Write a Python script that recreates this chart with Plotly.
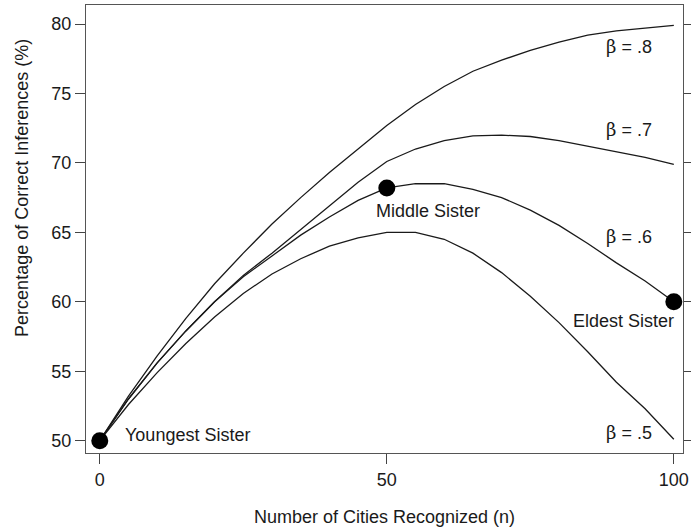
import plotly.graph_objects as go

# ── Data ───────────────────────────────────────────────────────────────────
n_cities = [0, 5, 10, 15, 20, 25, 30, 35, 40, 45, 50,
            55, 60, 65, 70, 75, 80, 85, 90, 95, 100]

beta_8 = [50, 53.2, 56.1, 58.8, 61.3, 63.5, 65.6, 67.5, 69.3, 71.0, 72.7,
          74.2, 75.5, 76.6, 77.4, 78.1, 78.7, 79.2, 79.5, 79.7, 79.9]
beta_7 = [50, 53.0, 55.6, 57.9, 60.0, 61.9, 63.5, 65.2, 66.9, 68.6, 70.1,
          71.0, 71.6, 71.95, 72.0, 71.9, 71.6, 71.2, 70.8, 70.4, 69.9]
beta_6 = [50, 53.0, 55.6, 57.9, 60.0, 61.8, 63.3, 64.8, 66.1, 67.3, 68.2,
          68.5, 68.5, 68.1, 67.5, 66.6, 65.5, 64.2, 62.8, 61.5, 60.0]
beta_5 = [50, 52.6, 54.9, 57.0, 58.9, 60.6, 62.0, 63.1, 64.0, 64.6, 65.0,
          65.0, 64.5, 63.5, 62.1, 60.4, 58.5, 56.4, 54.2, 52.3, 50.1]

sister_n = [0, 50, 100]
sister_pct = [50, 68.2, 60]
sister_names = ["Youngest Sister", "Middle Sister", "Eldest Sister"]

x_ticks = [0, 50, 100]
y_ticks = [50, 55, 60, 65, 70, 75, 80]

INK = "#1a1a1a"
FONT = "Liberation Sans, Arial, sans-serif"
FS = 18

fig = go.Figure()

for ys in (beta_8, beta_7, beta_6, beta_5):
    fig.add_trace(go.Scatter(
        x=n_cities, y=ys, mode="lines",
        line=dict(color=INK, width=1.3),
        showlegend=False, hoverinfo="skip",
    ))

fig.add_trace(go.Scatter(
    x=sister_n, y=sister_pct, mode="markers",
    marker=dict(color="black", size=17),
    showlegend=False, text=sister_names, cliponaxis=False,
))

# curve labels and sister labels
BETA = "<span style='font-family:DejaVu Serif'>β</span>"
labels = [
    (BETA + " = .8", 92.2, 78.4, "center"),
    (BETA + " = .7", 92.2, 72.4, "center"),
    (BETA + " = .6", 92.2, 64.7, "center"),
    (BETA + " = .5", 92.2, 50.6, "center"),
    ("Middle Sister", 57.2, 66.55, "center"),
    ("Eldest Sister", 91.3, 58.6, "center"),
    ("Youngest Sister", 4.0, 50.4, "left"),
]
for txt, x, y, anchor in labels:
    fig.add_annotation(
        x=x, y=y, text=txt, showarrow=False,
        xanchor=anchor, yanchor="middle",
        font=dict(size=FS, color=INK, family=FONT),
    )

# axis titles placed as paper annotations
fig.add_annotation(
    xref="paper", yref="paper", x=0.5, y=-0.143,
    text="Number of Cities Recognized (n)", showarrow=False,
    xanchor="center", yanchor="middle",
    font=dict(size=FS, color=INK, family=FONT),
)
fig.add_annotation(
    xref="paper", yref="paper", x=-0.107, y=0.592,
    text="Percentage of Correct Inferences (%)", showarrow=False,
    textangle=-90, xanchor="center", yanchor="middle",
    font=dict(size=FS, color=INK, family=FONT),
)

axis_common = dict(
    showgrid=False, zeroline=False, automargin=False,
    showline=True, linecolor="#555", linewidth=1.3,
    ticks="outside", ticklen=10, tickwidth=1.2, tickcolor="#444",
    tickfont=dict(size=FS, color=INK, family=FONT),
)

fig.update_layout(
    width=691, height=532,
    margin=dict(l=86, r=8, t=5, b=79),
    plot_bgcolor="white", paper_bgcolor="white",
    font=dict(family=FONT, color=INK),
    xaxis=dict(range=[-2.4, 101.6], tickvals=x_ticks, mirror=True, **axis_common),
    yaxis=dict(range=[49.11, 81.37], tickvals=y_ticks, mirror="ticks", **axis_common),
)

# drop the browser's default body margin so the figure sits at the page corner
fig.write_html(
    "out.html",
    config={"displayModeBar": False},
    post_script="document.body.style.margin='0';",
)
